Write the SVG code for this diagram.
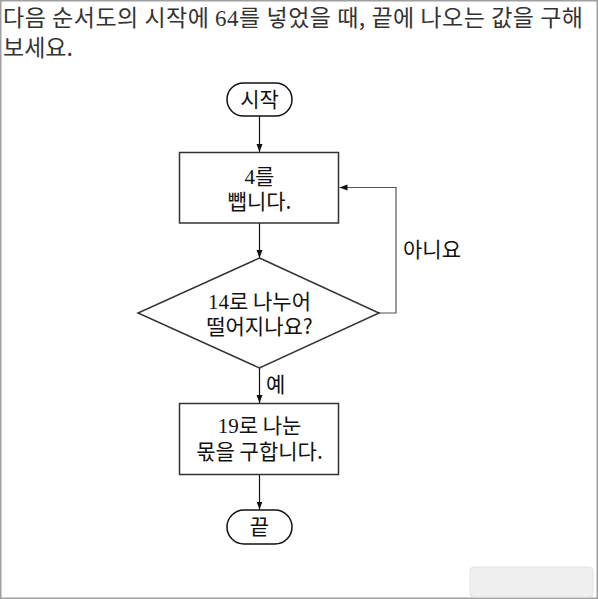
<svg xmlns="http://www.w3.org/2000/svg" width="598" height="599" viewBox="0 0 598 599">
<style>
.frame{fill:#fff;stroke:#a0a0a0;stroke-width:1.5}
.term{fill:#fff;stroke:#111;stroke-width:1.5}
.box{fill:#fff;stroke:#333;stroke-width:1.5}
.t{font-family:"Noto Sans CJK KR","Noto Sans",sans-serif;font-size:21px;fill:#111;text-anchor:middle}
.lbl{font-family:"Noto Sans CJK KR","Noto Sans",sans-serif;font-size:21px;fill:#111}
.d{font-family:"Liberation Serif",serif;font-size:21px}
.hd{font-family:"Noto Sans CJK KR","Noto Sans",sans-serif;font-size:23px;fill:#333}
.ln{fill:none;stroke:#111;stroke-width:1.2}
.ln2{fill:none;stroke:#555;stroke-width:1.2}
</style>
<defs>
<marker id="ah" viewBox="0 0 8 8" refX="8" refY="4" markerWidth="8" markerHeight="8" markerUnits="userSpaceOnUse" orient="auto">
<path d="M0,1 L8,4 L0,7 Z" fill="#111"/>
</marker>
</defs>
<rect class="frame" x="0.75" y="0.75" width="596.5" height="597.5"/>
<g id="question">
<text class="hd" x="3" y="26" textLength="580" lengthAdjust="spacing">다음 순서도의 시작에 <tspan font-family="Liberation Serif, serif" font-size="23px">64</tspan>를 넣었을 때, 끝에 나오는 값을 구해</text>
<text class="hd" x="3" y="56">보세요.</text>
</g>
<g id="connectors">
<line class="ln" x1="259.5" y1="116" x2="259.5" y2="152" marker-end="url(#ah)"/>
<line class="ln" x1="259.5" y1="223" x2="259.5" y2="258" marker-end="url(#ah)"/>
<polyline class="ln2" points="379,313 396,313 396,187.5 339.5,187.5" marker-end="url(#ah)"/>
<line class="ln" x1="259.5" y1="368" x2="259.5" y2="403" marker-end="url(#ah)"/>
<line class="ln" x1="259.5" y1="475" x2="259.5" y2="509.5" marker-end="url(#ah)"/>
<text class="lbl" x="403" y="257">아니요</text>
<text class="lbl" x="266" y="392">예</text>
</g>
<g id="start">
<rect class="term" x="227" y="83" width="65" height="33" rx="16.5"/>
<text class="t" x="259.5" y="107">시작</text>
</g>
<g id="subtract">
<rect class="box" x="179.5" y="152.5" width="159" height="70.5"/>
<text class="t" x="259.5" y="184"><tspan class="d">4</tspan>를</text>
<text class="t" x="259.5" y="209">뺍니다.</text>
</g>
<g id="decision">
<polygon class="box" points="259.5,258 379,313 259.5,368 138,313"/>
<text class="t" x="259.5" y="309"><tspan class="d">14</tspan>로 나누어</text>
<text class="t" x="259.5" y="334">떨어지나요?</text>
</g>
<g id="divide">
<rect class="box" x="179.5" y="403.5" width="159" height="71"/>
<text class="t" x="259.5" y="433"><tspan class="d">19</tspan>로 나눈</text>
<text class="t" x="259.5" y="459">몫을 구합니다.</text>
</g>
<g id="end">
<rect class="term" x="227" y="510" width="65" height="34" rx="17"/>
<text class="t" x="259.5" y="534">끝</text>
</g>
<rect x="470" y="567" width="123" height="30" rx="4" fill="#f0f0f0" stroke="#e2e2e2" stroke-width="1"/>
</svg>
